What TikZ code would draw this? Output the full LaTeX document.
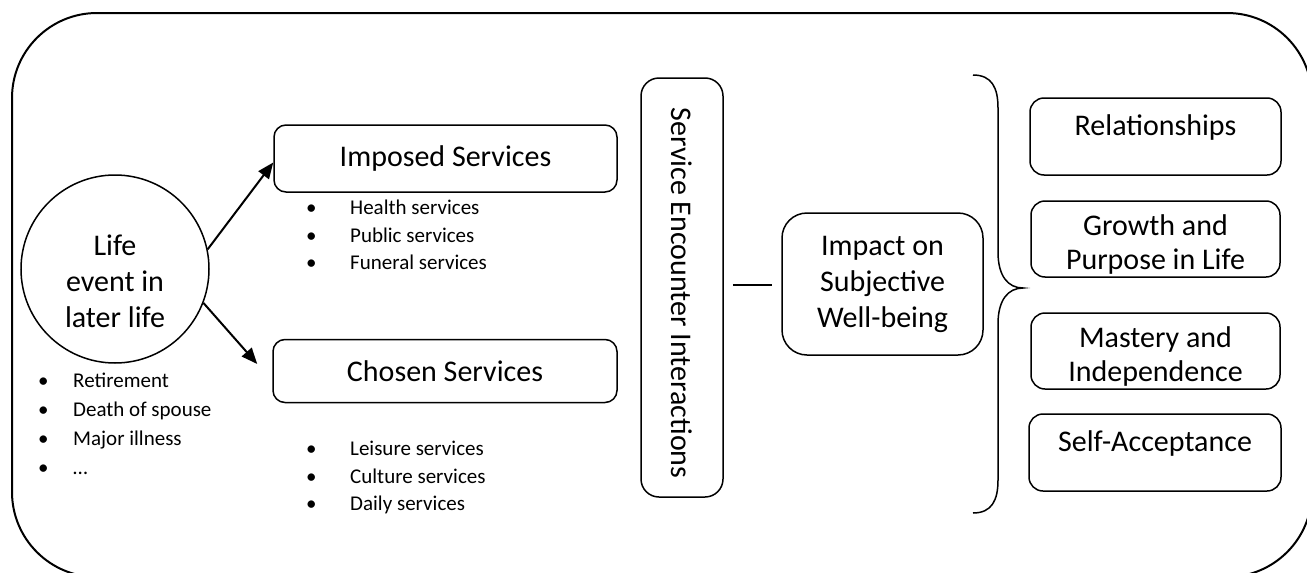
\documentclass[tikz,border=0pt]{standalone}
\usepackage{fontspec}
\setmainfont{Carlito}
\usetikzlibrary{arrows.meta,calc}
\begin{document}
\begin{tikzpicture}[x=1pt,y=-1pt,
  big/.style={font=\fontsize{30}{36}\selectfont},
  small/.style={font=\fontsize{21}{27.5}\selectfont, align=left, inner sep=0pt, anchor=north west},
  rbox/.style={draw, line width=1.5pt, big, inner sep=0pt, align=center},
  arr/.style={line width=2pt, -{Triangle[length=16pt,width=13pt]}},
  bl/.style={line width=1.5pt}]
\useasboundingbox (0,0) rectangle (1307,573);
\begin{scope}
  \clip (0,0) rectangle (1307,573);
  \draw[line width=2pt, rounded corners=85pt] (12,13) rectangle (1312,577);
\end{scope}
\newcommand{\bul}{\makebox[35pt][l]{•}}
\newcommand{\bulb}{\makebox[44pt][l]{•}}
\newcommand{\up}{\rule{0pt}{31pt}}
% life event circle
\node[draw, circle, line width=1.5pt, minimum size=188pt, inner sep=0pt] (life) at (115,269) {};
\node[big, align=center] (lifetext) at (115,281) {Life\\event in\\later life};
\node[small] (lifelist) at (38,373) {\bul Retirement\\[1.5pt]\bul Death of spouse\\[1.5pt]\bul Major illness\\[1.5pt]\bul …};
% service boxes
\node[rbox, rounded corners=12pt, minimum width=343pt, minimum height=67pt] (imposed) at (445.5,158.5) {Imposed Services};
\node[small] (implist) at (306,200) {\bulb Health services\\\bulb Public services\\\bulb Funeral services};
\node[rbox, rounded corners=12pt, minimum width=344pt, minimum height=63pt] (chosen) at (445,371) {Chosen Services};
\node[small] (choslist) at (306,441) {\bulb Leisure services\\\bulb Culture services\\\bulb Daily services};
\draw[arr] (life.12) -- ($(imposed.west)+(0,4)$);
\draw[arr] (life.-21) -- ($(chosen.west)+(-15,-7)$);
% service encounter
\node[rbox, rounded corners=18pt, minimum width=82pt, minimum height=419pt] (encounter) at (682,287.5) {};
\node[big, rotate=-90] (enctext) at (682,293) {Service Encounter Interactions};
% impact
\node[rbox, rounded corners=25pt, minimum width=201pt, minimum height=142pt] (impact) at (882.5,284) {Impact on\\Subjective\\Well-being};
\draw[bl] ($(encounter.east)+(9,-2.5)$) -- ($(impact.west)+(-9,1)$);
% brace
\draw[bl] (973,75) .. controls (992,75) and (998,88) .. (998,108) -- (998,252)
  .. controls (998,276) and (1008,288) .. (1023,288)
  .. controls (1008,288) and (998,300) .. (998,324) -- (998,480)
  .. controls (998,500) and (992,513) .. (973,513);
% right boxes
\node[rbox, rounded corners=14pt, minimum width=251pt, minimum height=77pt] (rel) at (1155.5,136.5) {\up Relationships\\[-2pt]~};
\node[rbox, rounded corners=14pt, minimum width=249pt, minimum height=76pt] (growth) at (1155.5,239) {\up Growth and\\[-2pt]Purpose in Life};
\node[rbox, rounded corners=14pt, minimum width=249pt, minimum height=76pt] (mastery) at (1155.5,351) {\up Mastery and\\[-2pt]Independence};
\node[rbox, rounded corners=14pt, minimum width=252pt, minimum height=77pt] (self) at (1155,452.5) {\up Self-Acceptance\\[-2pt]~};
\end{tikzpicture}
\end{document}
